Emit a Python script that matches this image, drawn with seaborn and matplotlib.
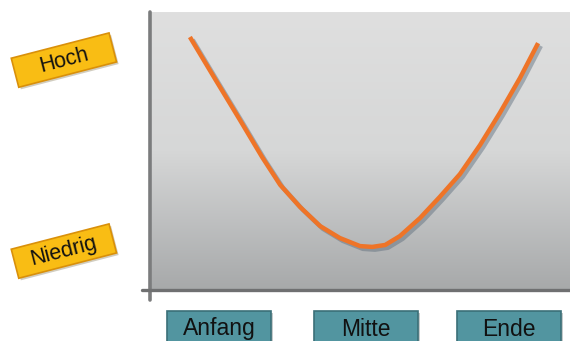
import numpy as np
import pandas as pd
import matplotlib
matplotlib.use('Agg')
import matplotlib.pyplot as plt
import matplotlib.patheffects as pe
from matplotlib.colors import LinearSegmentedColormap
from matplotlib.patches import Rectangle
from matplotlib.transforms import Affine2D, ScaledTranslation, blended_transform_factory
import seaborn as sns

# Verlauf
zeit = [0.95, 1.55, 2.14, 2.67, 3.10, 3.57, 4.05, 4.52, 5.00, 5.29,
        5.60, 5.95, 6.43, 6.90, 7.38, 7.86, 8.33, 8.81, 9.24]
niveau = [9.10, 7.59, 6.12, 4.78, 3.78, 2.99, 2.30, 1.87, 1.58, 1.55,
          1.62, 1.94, 2.59, 3.35, 4.17, 5.22, 6.37, 7.63, 8.88]

# Achsenbeschriftungen
y_labels = ['Hoch', 'Niedrig']
y_levels = [8.27, 1.40]
x_labels = ['Anfang', 'Mitte', 'Ende']
x_pos = [1.64, 5.14, 8.55]

df = pd.DataFrame({'zeit': zeit, 'niveau': niveau})

sns.set_style('white')
plt.rcParams['font.family'] = ['Liberation Sans', 'DejaVu Sans']

fig = plt.figure(figsize=(5.7, 3.41), dpi=100)
ax = fig.add_axes([150 / 570, 51 / 341, 420 / 570, 278 / 341])

# grauer Hintergrund mit Verlauf
bg = LinearSegmentedColormap.from_list('bg', ['#dfdfdf', '#d6d7d7', '#a7a9aa'])
ax.imshow(np.linspace(0, 1, 256).reshape(-1, 1), cmap=bg, aspect='auto',
          extent=(0, 10, 0, 10), zorder=0)

sns.lineplot(data=df, x='zeit', y='niveau', ax=ax, color='#ee7428', lw=3.2,
             solid_capstyle='butt', solid_joinstyle='round', zorder=3,
             path_effects=[pe.SimpleLineShadow(offset=(2, -2), shadow_color='#5a6a7a', alpha=0.45),
                           pe.Normal()])

ax.set_xlim(0, 10)
ax.set_ylim(0, 10)
ax.set_xticks([])
ax.set_yticks([])
ax.set_xlabel('')
ax.set_ylabel('')
for s in ax.spines.values():
    s.set_visible(False)

# Achsenlinien
ax.axvline(0, ymin=-0.035, ymax=1, color='#7b7c7d', lw=2.6, clip_on=False, zorder=4)
ax.axhline(0, xmin=-0.018, xmax=1, color='#6f7071', lw=2.4, clip_on=False, zorder=4)

shadow = [pe.SimplePatchShadow(offset=(1.5, -1.5), alpha=0.25), pe.Normal()]

# gelbe Schilder links
ytrans = blended_transform_factory(ax.transAxes, ax.transData)
for lab, lev in zip(y_labels, y_levels):
    w, h = 101 / 100, 30 / 100
    box_tr = (Affine2D().rotate_deg(14.5) + fig.dpi_scale_trans
              + ScaledTranslation(-0.205, lev, ytrans))
    r = Rectangle((-w / 2, -h / 2), w, h, transform=box_tr, facecolor='#f9bd14',
                  edgecolor='#d9900a', lw=1.2, clip_on=False, zorder=5, path_effects=shadow)
    ax.add_artist(r)
    ax.text(-0.205, lev, lab, transform=ytrans, rotation=14.5, rotation_mode='anchor',
            ha='center', va='center', fontsize=15.5, color='#111111', zorder=6, clip_on=False)

# türkise Schilder unten
xtrans = blended_transform_factory(ax.transData, ax.transAxes)
for lab, xp in zip(x_labels, x_pos):
    w, h = 104 / 100, 40 / 100
    box_tr = fig.dpi_scale_trans + ScaledTranslation(xp, -21 / 278, xtrans)
    r = Rectangle((-w / 2, -h), w, h, transform=box_tr, facecolor='#5295a0',
                  edgecolor='#3b6f78', lw=1.2, clip_on=False, zorder=5, path_effects=shadow)
    ax.add_artist(r)
    ax.text(xp, -39 / 278, lab, transform=xtrans, ha='center', va='center',
            fontsize=16.5, color='#111111', zorder=6, clip_on=False)

fig.savefig('out.png', dpi=100)
